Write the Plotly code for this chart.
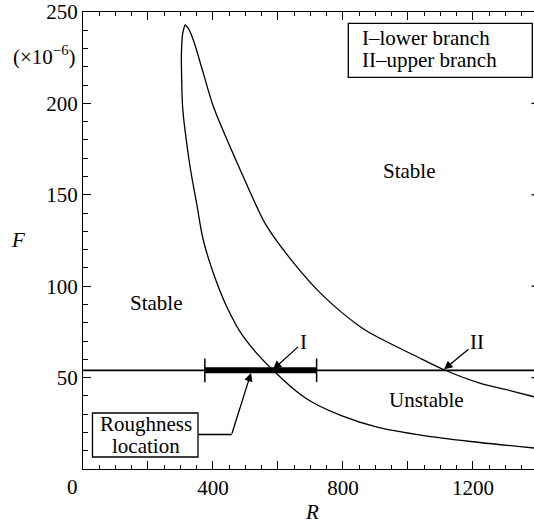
import plotly.graph_objects as go

# ---- data ----
R_lower = [314, 307, 303, 303.5, 307, 319, 331, 350, 370, 401, 442, 493, 585, 688, 793, 908, 1100, 1221, 1388]
F_lower = [243, 238.5, 228, 215, 197, 178.4, 163.7, 145, 125.4, 107.2, 88.9, 72.5, 54, 38.4, 29.3, 22.8, 17, 14.5, 11.5]

R_upper = [314, 324, 339, 370, 401, 452, 493, 534, 565, 647, 729, 852, 914, 1016, 1111, 1221, 1300, 1388]
F_upper = [243, 241, 235, 216.7, 198.4, 176.5, 160, 143.8, 133, 113, 96.5, 78, 71.5, 62.5, 54.3, 47, 43.5, 39.5]

F_level = 54            # horizontal line value
rough_R = [375, 719]    # roughness location extent
R_I = 585               # lower-branch crossing
R_II = 1111             # upper-branch crossing

x_tickvals = [200, 400, 600, 800, 1000, 1200]
x_ticktext = [" ", "400", " ", "800", " ", "1200"]
y_tickvals = [50, 100, 150, 200, 250]
y_ticktext = ["50", "100", "150", "200", "250"]

# ---- layout geometry ----
W, H = 534, 526
L, T, B = 83, 12, 57
PW = W - L
PH = H - T - B
XR = [0, 1388]
YR = [0, 250]

def px(x):
    return (x - L) / PW

def py(y):
    return (H - B - y) / PH

FONT = "Liberation Serif"
BLACK = "black"

fig = go.Figure()

line_style = dict(color=BLACK, width=1.3, shape="spline", smoothing=1.0)
fig.add_trace(go.Scatter(x=R_lower, y=F_lower, mode="lines", line=line_style,
                         hoverinfo="skip", showlegend=False))
fig.add_trace(go.Scatter(x=R_upper, y=F_upper, mode="lines", line=line_style,
                         hoverinfo="skip", showlegend=False))
# horizontal level line
fig.add_trace(go.Scatter(x=XR, y=[F_level, F_level], mode="lines",
                         line=dict(color=BLACK, width=1.7),
                         hoverinfo="skip", showlegend=False))
# thick roughness bar
fig.add_trace(go.Scatter(x=rough_R, y=[F_level, F_level], mode="lines",
                         line=dict(color=BLACK, width=6),
                         hoverinfo="skip", showlegend=False))
# end caps
cap = 6.5
fig.add_trace(go.Scatter(x=[rough_R[0], rough_R[0], None, rough_R[1], rough_R[1]],
                         y=[F_level - cap, F_level + cap, None, F_level - cap, F_level + cap],
                         mode="lines", line=dict(color=BLACK, width=1.5),
                         hoverinfo="skip", showlegend=False))

tf = dict(family=FONT, size=21, color=BLACK)

axis_common = dict(showgrid=False, zeroline=False, showline=True, linecolor=BLACK,
                   linewidth=1.3, ticks="inside", tickcolor=BLACK, tickwidth=1.3,
                   ticklen=8, tickfont=tf)

fig.update_xaxes(range=XR, tickmode="array", tickvals=x_tickvals, ticktext=x_ticktext,
                 mirror="ticks",
                 minor=dict(dtick=50, ticks="inside", ticklen=4, tickcolor=BLACK, tickwidth=1),
                 **axis_common)
fig.update_yaxes(range=YR, tickmode="array", tickvals=y_tickvals, ticktext=y_ticktext,
                 mirror=False,
                 minor=dict(dtick=10, ticks="inside", ticklen=5, tickcolor=BLACK, tickwidth=1),
                 **axis_common)

ann = []
def text(t, x, y, xanchor="center", italic=False):
    ann.append(dict(text=("<i>%s</i>" % t) if italic else t, x=px(x), y=py(y),
                    xref="paper", yref="paper", xanchor=xanchor, yanchor="middle",
                    showarrow=False, font=tf))

text("0", 72.7, 486.7)
text("(×10<sup>−6</sup>)", 43.5, 55)
text("F", 18, 240, italic=True)
text("R", 312, 512, italic=True)
text("Stable", 156, 303)
text("Stable", 409, 171)
text("Unstable", 426.5, 400)
text("I–lower branch", 360, 38, xanchor="left")
text("II–upper branch", 360, 60, xanchor="left")
text("Roughness", 145.5, 424)
text("location", 145.5, 446)

arrow_common = dict(xref="x", yref="y", showarrow=True, arrowhead=2, arrowsize=1.3,
                    arrowwidth=1.3, arrowcolor=BLACK, standoff=0, font=tf)
ann.append(dict(text="I", x=R_I, y=F_level + 0.5, ax=30, ay=-27, **arrow_common))
ann.append(dict(text="II", x=R_II, y=F_level + 0.5, ax=33, ay=-27, **arrow_common))
# roughness pointer (diagonal part)
ann.append(dict(text="", x=517, y=F_level - 1.5, ax=-19.5, ay=62, **arrow_common))

shapes = [
    dict(type="rect", xref="paper", yref="paper", x0=px(348.3), x1=px(532.3),
         y0=py(77.3), y1=py(23.3), line=dict(color=BLACK, width=1.3)),
    dict(type="rect", xref="paper", yref="paper", x0=px(92.5), x1=px(198),
         y0=py(457), y1=py(413), line=dict(color=BLACK, width=1.3)),
    dict(type="line", xref="paper", yref="paper", x0=px(198), x1=px(231.8),
         y0=py(434.5), y1=py(434.5), line=dict(color=BLACK, width=1.3)),
]
# stubs of the (cropped) right-hand axis ticks
for v in y_tickvals[:-1]:
    shapes.append(dict(type="line", xref="paper", yref="y", x0=px(531.5), x1=1,
                       y0=v, y1=v, line=dict(color=BLACK, width=1.3)))

fig.update_layout(width=W, height=H, margin=dict(l=L, r=0, t=T, b=B, pad=0),
                  paper_bgcolor="white", plot_bgcolor="white",
                  font=dict(family=FONT, color=BLACK),
                  annotations=ann, shapes=shapes, showlegend=False)

fig.write_html("out.html")
